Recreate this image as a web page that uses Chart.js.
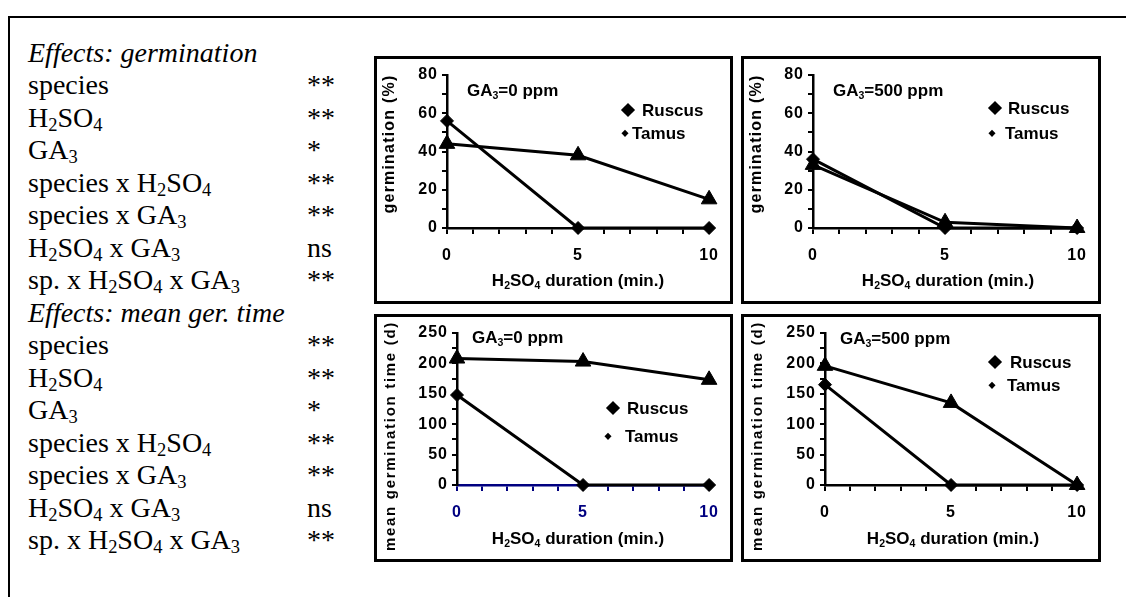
<!DOCTYPE html>
<html>
<head>
<meta charset="utf-8">
<script src="https://cdn.jsdelivr.net/npm/chart.js@4/dist/chart.umd.min.js"></script>
<style>
  html, body { margin:0; padding:0; background:#fff; width:1126px; height:597px; overflow:hidden; position:relative; }
  #frame { position:absolute; left:8px; top:16px; width:1140px; height:600px; border:2px solid #000; box-sizing:border-box; }
  .row { position:absolute; white-space:nowrap; font-family:'Liberation Serif','Times New Roman',serif; font-size:28px; line-height:32px; height:32px; color:#000; }
  .row.it { font-style:italic; }
  .ssub { font-size:0.66em; position:relative; top:0.22em; }
  .panel { position:absolute; border:3px solid #000; box-sizing:border-box; background:#fff; }
  .panel canvas { position:absolute; left:0; top:0; }
  .txt { position:absolute; white-space:nowrap; font-family:'Liberation Sans',Arial,sans-serif; font-weight:bold; color:#000; line-height:1; }
  .asub { font-size:0.62em; position:relative; top:0.32em; }
  .ytitle { transform:translate(-50%,-50%) rotate(-90deg); font-size:16px; letter-spacing:1.2px; }
  .ytitle.long { font-size:15px; letter-spacing:1.7px; }
  .xtitle { transform:translate(-50%,-50%); font-size:17px; }
  .galab { transform:translateY(-50%); font-size:17px; }
  .legtxt { transform:translateY(-50%); font-size:17px; }
  .dia { position:absolute; background:#000; transform:translate(-50%,-50%) rotate(45deg); }
</style>
</head>
<body>
<div id="frame"></div>
<div id="overlay"></div>
<script>
// ---------------- DATA ----------------
const durations = [0, 5, 10];                 // H2SO4 duration (min.)
const xTickLabels = [0, 5, 10];
const seriesNames = ['Ruscus', 'Tamus'];

// germination (%)
const germ0Ruscus   = [56, 0, 0];
const germ0Tamus    = [44, 38, 15];
const germ500Ruscus = [36, 0, 0];
const germ500Tamus  = [33, 3, 0];

// mean germination time (d)
const mgt0Ruscus    = [148, 0, 0];
const mgt0Tamus     = [208, 203, 173];
const mgt500Ruscus  = [165, 0, 0];
const mgt500Tamus   = [196, 135, 0];

const germYLabels = [0, 20, 40, 60, 80];
const mgtYLabels  = [0, 50, 100, 150, 200, 250];

const effectTerms = ['species', 'H2SO4', 'GA3', 'species x H2SO4', 'species x GA3', 'H2SO4 x GA3', 'sp. x H2SO4 x GA3'];
const germSignif  = ['**', '**', '*', '**', '**', 'ns', '**'];
const mgtSignif   = ['**', '**', '*', '**', '**', 'ns', '**'];
const groupTitles = ['Effects: germination', 'Effects: mean ger. time'];

const panelLabels = ['GA3=0 ppm', 'GA3=500 ppm', 'GA3=0 ppm', 'GA3=500 ppm'];
const yTitles = ['germination (%)', 'germination (%)', 'mean germination time (d)', 'mean germination time (d)'];
const xTitle = 'H2SO4 duration (min.)';

// ---------------- HELPERS ----------------
const ov = document.getElementById('overlay');
function subHtml(s, cls) { return s.replace(/([A-Z])(\d)/g, '$1<span class="' + cls + '">$2</span>'); }
function addDiv(cls, html, x, y, extraStyle) {
  const d = document.createElement('div');
  d.className = cls; d.innerHTML = html;
  d.style.left = x + 'px'; d.style.top = y + 'px';
  if (extraStyle) Object.assign(d.style, extraStyle);
  ov.appendChild(d);
  return d;
}

// ---------------- LEFT TABLE ----------------
(function () {
  const rows = [];
  rows.push([groupTitles[0], '', true]);
  effectTerms.forEach((t, i) => rows.push([t, germSignif[i], false]));
  rows.push([groupTitles[1], '', true]);
  effectTerms.forEach((t, i) => rows.push([t, mgtSignif[i], false]));
  rows.forEach((r, i) => {
    const top = 62 + 32.5 * i - 25.5;
    addDiv('row' + (r[2] ? ' it' : ''), subHtml(r[0], 'ssub'), 28, top);
    if (r[1]) addDiv('row', r[1], 307, top);
  });
})();

// ---------------- PANELS ----------------
const FONT = "'Liberation Sans', Arial, sans-serif";
const panels = [
  { box:[374, 56, 359, 248], area:{l:70, r:12, t:16, xh:73}, yMax:80, yStep:10, yLabels:germYLabels, ruscus:germ0Ruscus, tamus:germ0Tamus, axisX:'#000',
    ytitle:[389,144], gal:[467,90], leg:{r:[628,110], rt:[642,110], t:[625,133], tt:[632,133]}, xt:[578,280] },
  { box:[741, 56, 360, 248], area:{l:69, r:11, t:16, xh:73}, yMax:80, yStep:10, yLabels:germYLabels, ruscus:germ500Ruscus, tamus:germ500Tamus, axisX:'#000',
    ytitle:[756,144], gal:[833,90], leg:{r:[995,108], rt:[1008,108], t:[992,133], tt:[1005,133]}, xt:[948,280] },
  { box:[374, 314, 359, 248], area:{l:80, r:12, t:16, xh:74}, yMax:250, yStep:25, yLabels:mgtYLabels, ruscus:mgt0Ruscus, tamus:mgt0Tamus, axisX:'#000080',
    ytitle:[389,436], gal:[472,337], leg:{r:[613,408], rt:[627,408], t:[608,436], tt:[625,436]}, xt:[578,538] },
  { box:[741, 314, 360, 248], area:{l:81, r:11, t:16, xh:74}, yMax:250, yStep:25, yLabels:mgtYLabels, ruscus:mgt500Ruscus, tamus:mgt500Tamus, axisX:'#000',
    ytitle:[756,436], gal:[840,338], leg:{r:[995,362], rt:[1010,362], t:[992,385], tt:[1007,385]}, xt:[953,538] }
];

const spacingPlugin = { id:'spacing', beforeDraw(c) { try { c.ctx.letterSpacing = '1px'; } catch (e) {} } };

panels.forEach((p, idx) => {
  const [bx, by, bw, bh] = p.box;
  const pd = document.createElement('div');
  pd.className = 'panel';
  Object.assign(pd.style, { left:bx + 'px', top:by + 'px', width:bw + 'px', height:bh + 'px' });
  document.body.insertBefore(pd, ov);
  const cw = bw - 6, ch = bh - 6;
  const cv = document.createElement('canvas');
  cv.width = cw; cv.height = ch;
  cv.style.width = cw + 'px'; cv.style.height = ch + 'px';
  pd.appendChild(cv);

  const toPts = arr => durations.map((x, i) => ({ x: x, y: arr[i] }));
  new Chart(cv, {
    type: 'line',
    data: {
      datasets: [
        { label: seriesNames[1], data: toPts(p.tamus), borderColor:'#000', backgroundColor:'#000', borderWidth:3,
          pointStyle:'triangle', pointRadius:9, pointBorderWidth:1, pointBackgroundColor:'#000', pointBorderColor:'#000', clip:false, tension:0 },
        { label: seriesNames[0], data: toPts(p.ruscus), borderColor:'#000', backgroundColor:'#000', borderWidth:3,
          pointStyle:'rectRot', pointRadius:6.5, pointBorderWidth:1, pointBackgroundColor:'#000', pointBorderColor:'#000', clip:false, tension:0 }
      ]
    },
    options: {
      responsive:false, animation:false, devicePixelRatio:1,
      layout: { padding: { left:0, top:p.area.t, right:p.area.r, bottom:0 } },
      plugins: { legend:{ display:false }, tooltip:{ enabled:false } },
      scales: {
        x: {
          type:'linear', min:0, max:10, offset:false,
          afterFit(s) { s.height = p.area.xh; },
          ticks: { stepSize:1, autoSkip:false, maxRotation:0, padding:12, color:p.axisX,
                   font:{ family:FONT, size:16, weight:'bold' },
                   callback: v => xTickLabels.includes(v) ? String(v) : '' },
          grid: { display:true, drawOnChartArea:false, drawTicks:true, tickLength:6, color:p.axisX, lineWidth:2 },
          border: { display:true, color:p.axisX, width:2.5 }
        },
        y: {
          type:'linear', min:0, max:p.yMax,
          afterFit(s) { s.width = p.area.l; },
          ticks: { stepSize:p.yStep, autoSkip:false, padding:4, color:'#000',
                   font:{ family:FONT, size:16, weight:'bold' },
                   callback: v => p.yLabels.includes(v) ? String(v) : '' },
          grid: { display:true, drawOnChartArea:false, drawTicks:true, tickLength:5, color:'#000', lineWidth:2 },
          border: { display:true, color:'#000', width:2.5 }
        }
      }
    },
    plugins: [spacingPlugin]
  });

  // texts
  addDiv('txt ytitle' + (idx >= 2 ? ' long' : ''), yTitles[idx], p.ytitle[0], p.ytitle[1]);
  addDiv('txt xtitle', subHtml(xTitle, 'asub'), p.xt[0], p.xt[1]);
  addDiv('txt galab', subHtml(panelLabels[idx], 'asub'), p.gal[0], p.gal[1]);
  // legend
  addDiv('dia', '', p.leg.r[0], p.leg.r[1], { width:'10px', height:'10px' });
  addDiv('txt legtxt', seriesNames[0], p.leg.rt[0], p.leg.rt[1]);
  addDiv('dia', '', p.leg.t[0], p.leg.t[1], { width:'4.5px', height:'4.5px' });
  addDiv('txt legtxt', seriesNames[1], p.leg.tt[0], p.leg.tt[1]);
});
</script>
</body>
</html>
